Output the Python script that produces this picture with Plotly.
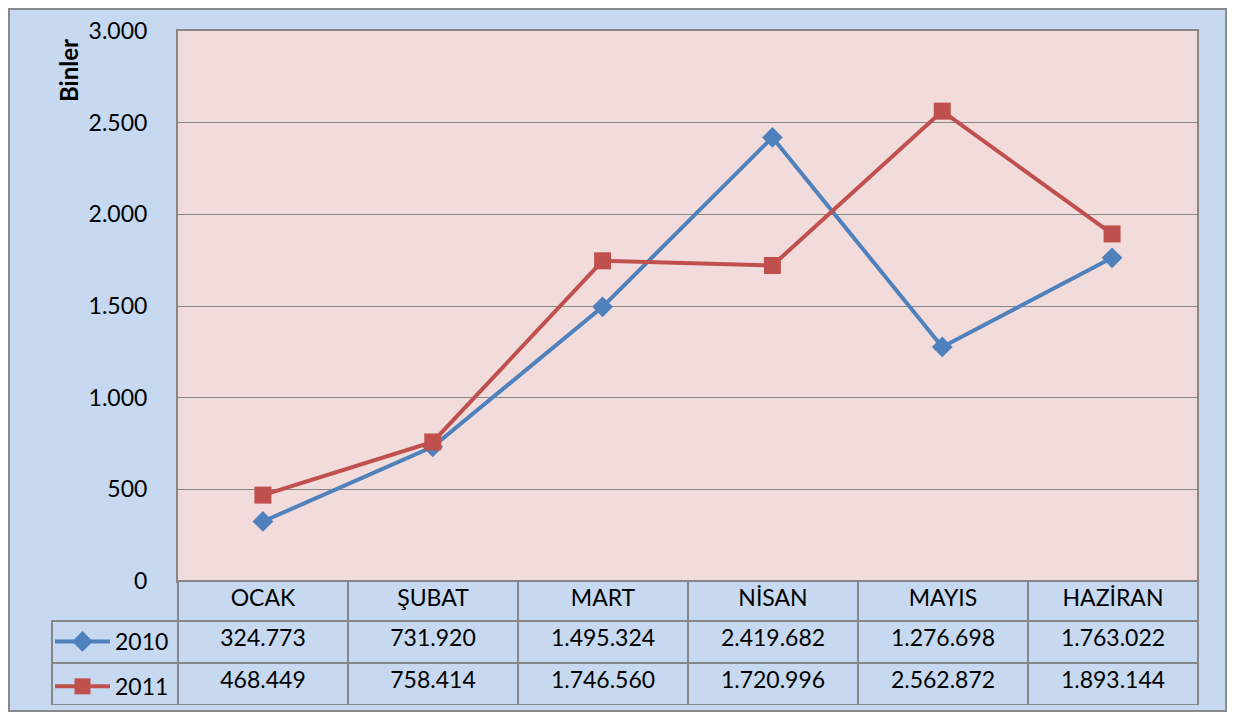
import plotly.graph_objects as go

months = ["OCAK", "ŞUBAT", "MART", "NİSAN", "MAYIS", "HAZİRAN"]
series_names = ["2010", "2011"]
v2010 = [324773, 731920, 1495324, 2419682, 1276698, 1763022]
v2011 = [468449, 758414, 1746560, 1720996, 2562872, 1893144]
y_ticks = [0, 500, 1000, 1500, 2000, 2500, 3000]

# page body has an 8px margin; figure sized so that the page fits the window
OFF = 8
W, H = 1220, 704
BG = "#C6D9F1"
PLOT_BG = "#F2DCDB"
GRID = "#878787"
BLUE = "#4F81BD"
RED = "#C0504D"
FONT = "Lato"
FS = 23


def fmt(v):
    return f"{v:,}".replace(",", ".")


def px(x):
    return (x - OFF) / W


def py(y):
    return 1 - (y - OFF) / H


fig = go.Figure()

fig.add_trace(go.Scatter(
    x=months, y=[v / 1000 for v in v2010], name=series_names[0],
    mode="lines+markers", legendgroup="a",
    line=dict(color=BLUE, width=4),
    marker=dict(symbol="diamond", size=16, color=BLUE),
))
fig.add_trace(go.Scatter(
    x=months, y=[v / 1000 for v in v2011], name=series_names[1],
    mode="lines+markers", legendgroup="b",
    line=dict(color=RED, width=4),
    marker=dict(symbol="square", size=17, color=RED),
))

cols = [["", ""]] + [[fmt(v2010[i]), fmt(v2011[i])] for i in range(len(months))]
fig.add_trace(go.Table(
    domain=dict(x=[px(52), px(1198)], y=[py(706), py(581)]),
    columnwidth=[126] + [170] * len(months),
    header=dict(
        values=[""] + months,
        fill=dict(color=["rgba(0,0,0,0)"] + [BG] * len(months)),
        line=dict(color=["rgba(0,0,0,0)"] + [GRID] * len(months), width=2),
        font=dict(family=FONT, size=FS, color="black"),
        align="center", height=40,
    ),
    cells=dict(
        values=cols,
        fill=dict(color=BG),
        line=dict(color=GRID, width=2),
        font=dict(family=FONT, size=FS, color="black"),
        align="center", height=42,
    ),
))

fig.update_layout(
    width=W, height=H,
    margin=dict(l=0, r=0, t=0, b=0, autoexpand=False),
    paper_bgcolor="white",
    plot_bgcolor=PLOT_BG,
    separators=",.",
    font=dict(family=FONT, size=FS, color="black"),
    showlegend=True,
    legend=dict(
        x=px(50), y=py(620), xanchor="left", yanchor="top",
        bgcolor="rgba(0,0,0,0)", font=dict(family=FONT, size=FS, color="black"),
        tracegroupgap=12, itemwidth=55,
    ),
    xaxis=dict(
        domain=[px(178), px(1197)], range=[-0.5, 5.5],
        showticklabels=False, showgrid=False, zeroline=False,
        showline=True, linecolor=GRID, linewidth=2, mirror=True,
        type="category",
    ),
    yaxis=dict(
        domain=[py(581), py(31)], range=[0, 3000],
        tickvals=y_ticks, tickformat=",d",
        showgrid=True, gridcolor=GRID, gridwidth=1,
        zeroline=False, showline=True, linecolor=GRID, linewidth=2, mirror=True,
        ticks="", ticklabelstandoff=24,
        tickfont=dict(family=FONT, size=FS, color="black"),
    ),
    shapes=[
        dict(
            type="rect", xref="paper", yref="paper", layer="below",
            x0=px(9), x1=px(1226), y0=py(711), y1=py(9),
            fillcolor=BG, line=dict(color="#8A8A8A", width=2),
        ),
        dict(
            type="rect", xref="x domain", yref="y domain", layer="below",
            x0=0, x1=1, y0=0, y1=1,
            fillcolor=PLOT_BG, line=dict(width=0),
        ),
    ],
    annotations=[dict(
        text="<b>Binler</b>", textangle=-90, showarrow=False,
        xref="paper", yref="paper", x=px(69), y=py(71),
        xanchor="center", yanchor="middle",
        font=dict(family=FONT, size=24, color="black"),
    )],
)

fig.write_html("out.html")
